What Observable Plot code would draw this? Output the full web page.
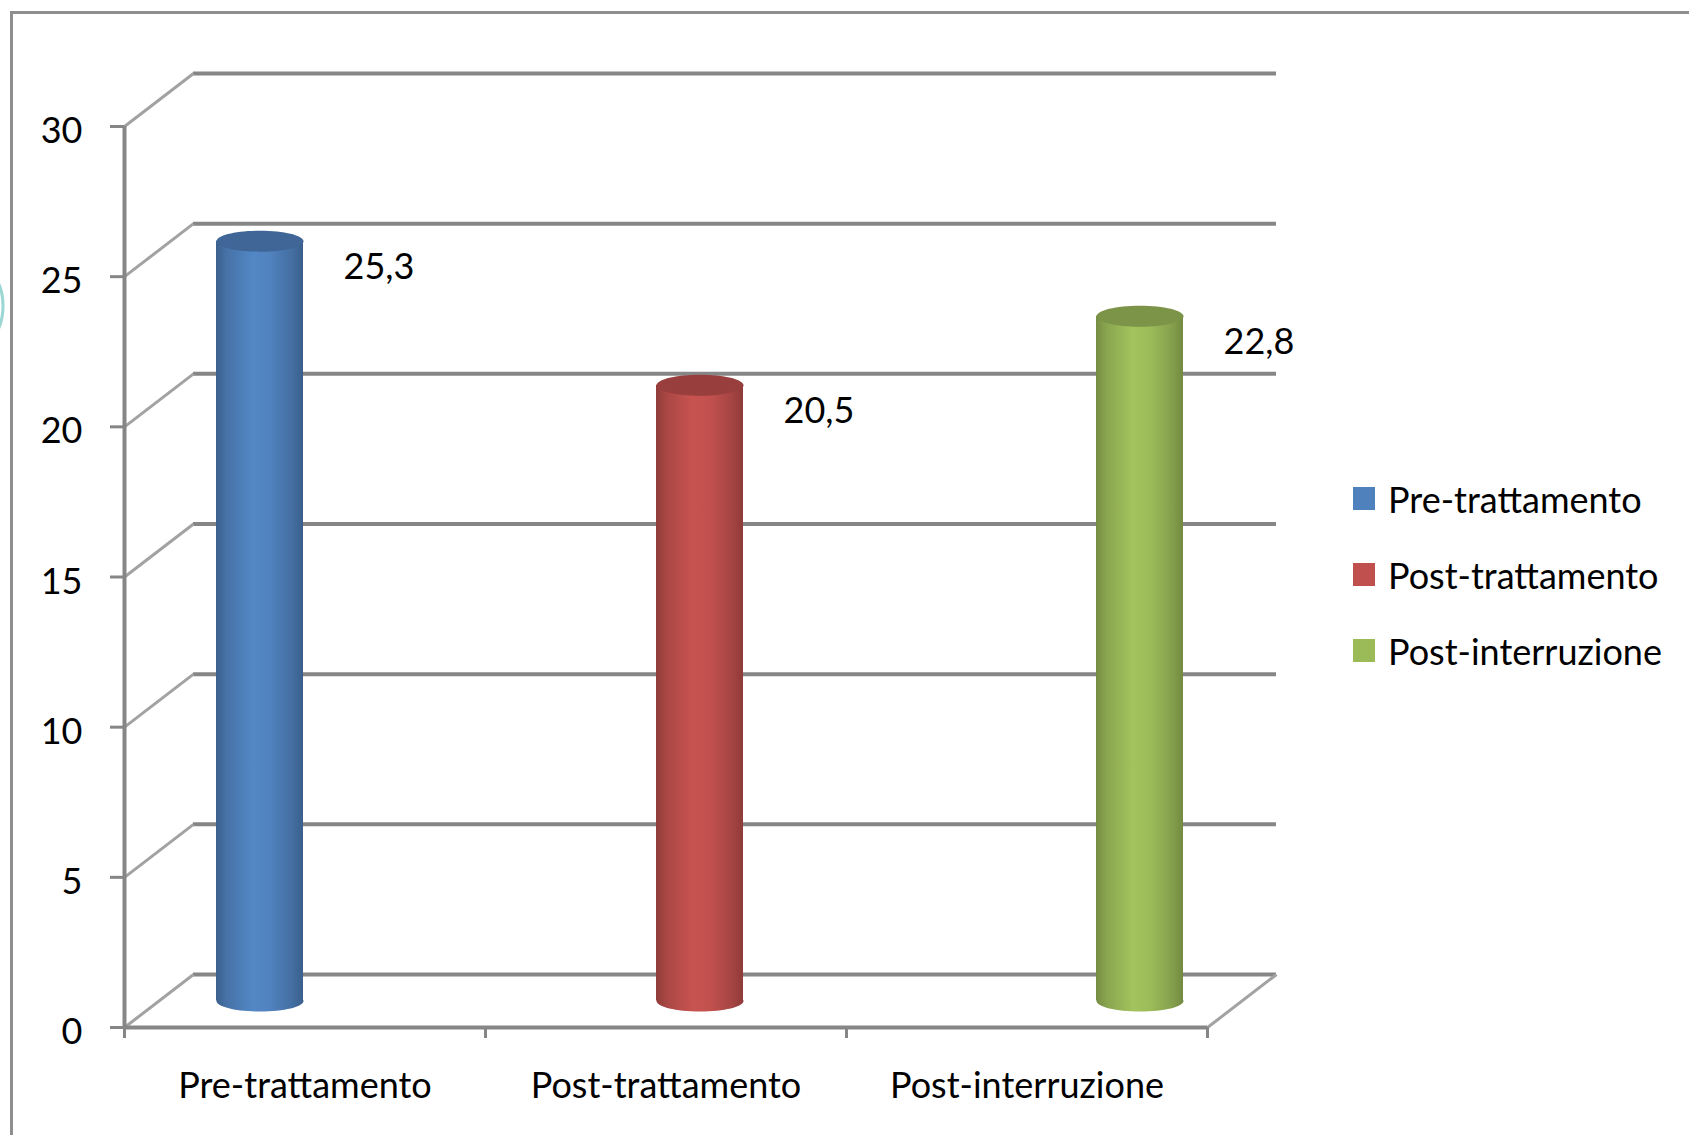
<!DOCTYPE html>
<html><head><meta charset="utf-8">
<script src="https://cdn.jsdelivr.net/npm/d3@7"></script>
<script src="https://cdn.jsdelivr.net/npm/@observablehq/plot@0.6"></script>
<style>
html,body{margin:0;padding:0;background:#fff;width:1689px;height:1135px;overflow:hidden;}
#wrap{position:relative;width:1689px;height:1135px;font-family:Lato,"Open Sans",sans-serif;}
#wrap > *{position:absolute;left:0;top:0;}
#wrap > #frame{left:10px;top:11px;width:2000px;height:2000px;border-left:3px solid #8e8e8e;border-top:3px solid #8e8e8e;}
</style></head><body><div id="wrap"><div id="frame"></div></div>
<script>
// ---- data ----
const categories = ["Pre-trattamento", "Post-trattamento", "Post-interruzione"];
const values = [25.3, 20.5, 22.8];
const colors = ["#4F81BD", "#C0504D", "#9BBB59"];
const yTicks = [0, 5, 10, 15, 20, 25, 30];

// ---- layout ----
const W = 1689, H = 1135;
const FONT = "Lato, 'Open Sans', sans-serif";
const FS = 36;
const plotLeft = 124, plotRight = 1207, plotTop = 126, plotBottom = 1027;
const depthDX = 69, depthDY = -53;
const yMax = 30;
const nCat = categories.length;
const xPerPx = nCat / (plotRight - plotLeft);
const yPerPx = yMax / (plotBottom - plotTop);
const depthX = depthDX * xPerPx, depthY = -depthDY * yPerPx;
const gridColor = "#868686", wallColor = "#a2a2a2";

const rows = categories.map((c, i) => ({
  i, category: c, value: values[i],
  label: values[i].toFixed(1).replace(".", ","),
  top: d3.color(colors[i]).darker(0.65).formatHex()
}));

const styleObj = {fontFamily: FONT, fontSize: FS + "px", background: "transparent", overflow: "visible"};

const main = Plot.plot({
  width: W, height: H,
  marginLeft: plotLeft, marginRight: W - plotRight, marginTop: plotTop, marginBottom: H - plotBottom,
  x: {type: "linear", domain: [0, nCat]},
  y: {domain: [0, yMax]},
  style: styleObj,
  marks: [
    Plot.ruleY(yTicks, {x1: 0, x2: nCat, dx: depthDX, dy: depthDY, stroke: gridColor, strokeWidth: 4}),
    Plot.link(yTicks, {x1: 0, y1: d => d, x2: depthX, y2: d => d + depthY, stroke: wallColor, strokeWidth: 3}),
    Plot.link([0], {x1: nCat, y1: 0, x2: nCat + depthX, y2: depthY, stroke: wallColor, strokeWidth: 3}),
    Plot.ruleX([0], {y1: 0, y2: yMax, stroke: gridColor, strokeWidth: 4}),
    Plot.ruleY([0], {x1: 0, x2: nCat, stroke: gridColor, strokeWidth: 4}),
    Plot.axisY({ticks: yTicks, tickSize: 14, tickFormat: () => "", stroke: gridColor, strokeWidth: 3, label: null}),
    Plot.axisY({ticks: yTicks, tickSize: 0, tickPadding: 42, dy: 5,
      fill: "black", fontSize: FS, label: null, tickFormat: d => String(d)}),
    Plot.axisX({ticks: d3.range(nCat + 1), tickSize: 11, tickFormat: () => "", stroke: gridColor, strokeWidth: 3, label: null}),
    Plot.axisX({ticks: d3.range(nCat).map(i => i + 0.5), tickSize: 0, tickPadding: 45,
      tickFormat: d => categories[Math.floor(d)], fill: "black", fontSize: FS, label: null})
  ]
});

// cylinders layer (mid-depth, own band scale)
const cylLeft = 215, cylRight = 1184, cylPadding = 0.8027;
const rx = 43.5, ry = 10.5;
const ellipse = {
  draw(ctx) {
    const k = 0.5523, a = rx, b = ry;
    ctx.moveTo(a, 0);
    ctx.bezierCurveTo(a, k * b, k * a, b, 0, b);
    ctx.bezierCurveTo(-k * a, b, -a, k * b, -a, 0);
    ctx.bezierCurveTo(-a, -k * b, -k * a, -b, 0, -b);
    ctx.bezierCurveTo(k * a, -b, a, -k * b, a, 0);
    ctx.closePath();
  }
};
const defs = () => {
  const g = d3.create("svg:defs");
  colors.forEach((c, i) => {
    const base = d3.color(c);
    const lg = g.append("linearGradient").attr("id", "cyl" + i)
      .attr("x1", 0).attr("x2", 1).attr("y1", 0).attr("y2", 0);
    [[0, base.darker(0.8)], [0.12, base.darker(0.35)], [0.42, base.brighter(0.12)],
     [0.62, base.brighter(0.02)], [0.88, base.darker(0.45)], [1, base.darker(0.85)]]
      .forEach(([o, col]) => lg.append("stop").attr("offset", o).attr("stop-color", col.formatHex()));
  });
  return g.node();
};

const cyl = Plot.plot({
  width: W, height: H,
  marginLeft: cylLeft, marginRight: W - cylRight,
  marginTop: plotTop + depthDY / 2, marginBottom: H - (plotBottom + depthDY / 2),
  x: {type: "band", domain: categories, paddingInner: cylPadding, paddingOuter: 0, axis: null},
  y: {domain: [0, yMax], axis: null},
  color: {type: "identity"},
  style: styleObj,
  marks: [
    defs,
    Plot.dot(rows, {x: "category", y: 0, symbol: ellipse, r: 10, fill: d => `url(#cyl${d.i})`}),
    Plot.barY(rows, {x: "category", y: "value", fill: d => `url(#cyl${d.i})`}),
    Plot.dot(rows, {x: "category", y: "value", symbol: ellipse, r: 10, fill: d => d.top}),
    Plot.text(rows, {x: "category", y: "value", text: "label", dx: 119, dy: 26, fontSize: FS, fill: "black"})
  ]
});

// legend
const legend = d3.create("svg").attr("width", W).attr("height", H)
  .style("font-family", FONT).style("font-size", FS + "px");
legend.append("ellipse").attr("cx", -22).attr("cy", 306).attr("rx", 25).attr("ry", 40)
  .attr("fill", "none").attr("stroke", "#9ad7d3").attr("stroke-width", 3);
categories.forEach((c, i) => {
  legend.append("rect").attr("x", 1353).attr("y", 487 + 76 * i).attr("width", 22).attr("height", 23).attr("fill", colors[i]);
  legend.append("text").attr("x", 1388).attr("y", 513 + 76 * i).attr("fill", "black").text(c);
});

const wrap = document.getElementById("wrap");
wrap.appendChild(main);
wrap.appendChild(cyl);
wrap.appendChild(legend.node());
</script></body></html>
